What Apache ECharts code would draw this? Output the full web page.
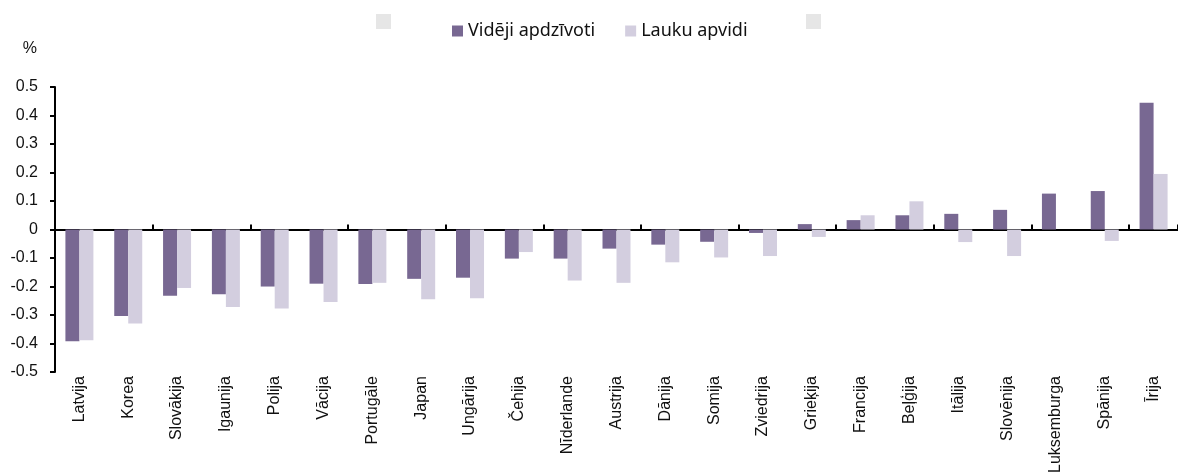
<!DOCTYPE html>
<html>
<head>
<meta charset="utf-8">
<script src="https://cdn.jsdelivr.net/npm/echarts@6/dist/echarts.min.js"></script>
<style>
html,body{margin:0;padding:0;background:#fff;}
#chart{width:1178px;height:476px;}
</style>
</head>
<body>
<div id="chart"></div>
<script>
const categories = ['Latvija','Korea','Slovākija','Igaunija','Polija','Vācija','Portugāle','Japan','Ungārija','Čehija','Nīderlande','Austrija','Dānija','Somija','Zviedrija','Grieķija','Francija','Beļģija','Itālija','Slovēnija','Luksemburga','Spānija','Īrija'];
const seriesNames = ['Vidēji apdzīvoti','Lauku apvidi'];
const videji = [-0.392,-0.303,-0.232,-0.227,-0.200,-0.190,-0.191,-0.173,-0.169,-0.102,-0.102,-0.067,-0.053,-0.043,-0.012,0.019,0.033,0.050,0.055,0.069,0.126,0.135,0.445];
const lauku = [-0.388,-0.330,-0.205,-0.272,-0.277,-0.254,-0.187,-0.245,-0.241,-0.079,-0.179,-0.187,-0.115,-0.098,-0.093,-0.026,0.050,0.099,-0.044,-0.093,0,-0.040,0.195];
const yTicks = {min:-0.5, max:0.5, interval:0.1};

const chart = echarts.init(document.getElementById('chart'));
const font = "'Liberation Sans', Arial, sans-serif";
chart.setOption({
  animation:false,
  backgroundColor:'#ffffff',
  grid:{left:55, top:87, bottom:103, width:1132},
  legend:{
    data:seriesNames,
    left:447, top:17,
    itemWidth:11, itemHeight:11, itemGap:30,
    icon:'rect',
    textStyle:{fontFamily:"'Noto Sans', sans-serif", fontSize:18, color:'#111'}
  },
  graphic:[
    {type:'rect', left:376, top:14, shape:{width:15,height:15}, style:{fill:'#e6e6e6'}},
    {type:'rect', left:806, top:14, shape:{width:15,height:15}, style:{fill:'#e6e6e6'}}
  ],
  xAxis:[
    {type:'category', data:categories, boundaryGap:true,
     axisLine:{onZero:true, lineStyle:{color:'#000', width:2}},
     axisTick:{show:true, inside:true, length:5, lineStyle:{color:'#000', width:2}},
     axisLabel:{show:false}, splitLine:{show:false}},
    {type:'category', data:categories, boundaryGap:true, position:'bottom',
     axisLine:{show:false, onZero:false}, axisTick:{show:false},
     axisLabel:{rotate:90, interval:0, margin:4, fontFamily:font, fontSize:16, color:'#111'}}
  ],
  yAxis:{
    type:'value', min:yTicks.min, max:yTicks.max, interval:yTicks.interval,
    name:'%', nameLocation:'end', nameGap:30,
    nameTextStyle:{fontFamily:font, fontSize:16, color:'#111', align:'right', padding:[0,18,0,0]},
    axisLine:{show:true, lineStyle:{color:'#000', width:2}},
    axisTick:{show:true, length:5, lineStyle:{color:'#000', width:2}},
    axisLabel:{fontFamily:font, fontSize:16, color:'#111', margin:17,
      formatter:v=>{const r=Math.round(v*10)/10; return r===0?'0':String(r);}},
    splitLine:{show:false}
  },
  series:[
    {name:seriesNames[0], type:'bar', data:videji, barWidth:14, barGap:'0%', itemStyle:{color:'#786892'}},
    {name:seriesNames[1], type:'bar', data:lauku, barWidth:14, barGap:'0%', itemStyle:{color:'#d3cedf'}}
  ]
});
</script>
</body>
</html>
